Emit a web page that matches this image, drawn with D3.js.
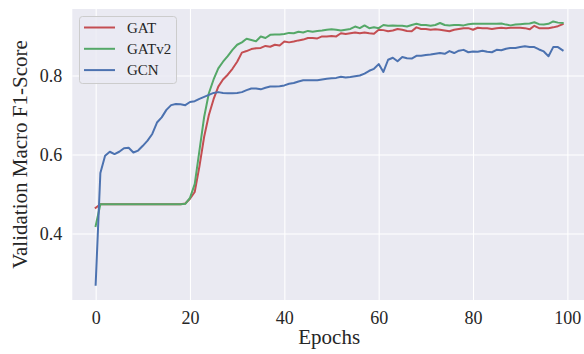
<!DOCTYPE html>
<html>
<head>
<meta charset="utf-8">
<script src="https://cdn.jsdelivr.net/npm/d3@7"></script>
<style>
  html, body { margin: 0; padding: 0; background: #ffffff; }
  svg { display: block; font-family: "Liberation Serif", "DejaVu Serif", serif; }
</style>
</head>
<body>
<svg id="chart" width="584" height="354"></svg>
<script>
const epochs = d3.range(0, 100);
const xTicks = [0, 20, 40, 60, 80, 100];
const yTicks = [0.4, 0.6, 0.8];
const seriesNames = ["GAT", "GATv2", "GCN"];
const seriesColors = ["#C44E52", "#55A868", "#4C72B0"];

const gat = [0.465,0.474,0.474,0.474,0.474,0.474,0.474,0.474,0.474,0.474,
  0.474,0.474,0.474,0.474,0.474,0.474,0.474,0.474,0.474,0.476,
  0.488,0.505,0.570,0.645,0.700,0.740,0.772,0.790,0.802,0.817,
  0.835,0.858,0.862,0.867,0.869,0.870,0.875,0.873,0.878,0.876,
  0.886,0.884,0.886,0.889,0.891,0.895,0.895,0.894,0.899,0.899,
  0.900,0.899,0.907,0.905,0.907,0.909,0.907,0.909,0.907,0.906,
  0.916,0.915,0.912,0.914,0.918,0.916,0.913,0.912,0.922,0.918,
  0.918,0.916,0.917,0.916,0.914,0.912,0.916,0.918,0.920,0.920,
  0.916,0.921,0.920,0.920,0.918,0.920,0.921,0.920,0.921,0.921,
  0.921,0.920,0.917,0.926,0.920,0.920,0.920,0.922,0.925,0.930];

const gatv2 = [0.419,0.474,0.474,0.474,0.474,0.474,0.474,0.474,0.474,0.474,
  0.474,0.474,0.474,0.474,0.474,0.474,0.474,0.474,0.474,0.475,
  0.490,0.525,0.610,0.695,0.755,0.790,0.818,0.835,0.849,0.865,
  0.878,0.884,0.893,0.890,0.887,0.899,0.895,0.903,0.904,0.904,
  0.905,0.908,0.907,0.911,0.909,0.913,0.911,0.913,0.914,0.916,
  0.917,0.916,0.914,0.916,0.918,0.924,0.920,0.927,0.920,0.922,
  0.920,0.928,0.926,0.927,0.926,0.926,0.924,0.928,0.931,0.928,
  0.928,0.926,0.928,0.933,0.928,0.927,0.928,0.928,0.927,0.930,
  0.931,0.931,0.931,0.931,0.931,0.931,0.932,0.929,0.927,0.929,
  0.930,0.931,0.932,0.935,0.930,0.929,0.931,0.937,0.934,0.933];

const gcn = [0.270,0.553,0.597,0.607,0.601,0.607,0.616,0.617,0.605,0.610,
  0.622,0.635,0.652,0.681,0.694,0.713,0.725,0.728,0.727,0.725,
  0.733,0.735,0.741,0.746,0.751,0.756,0.758,0.756,0.755,0.755,
  0.756,0.758,0.763,0.767,0.767,0.765,0.769,0.772,0.772,0.773,
  0.775,0.779,0.781,0.785,0.788,0.788,0.788,0.788,0.790,0.792,
  0.793,0.794,0.797,0.795,0.796,0.798,0.800,0.805,0.812,0.817,
  0.829,0.809,0.840,0.845,0.836,0.847,0.844,0.843,0.850,0.850,
  0.852,0.853,0.855,0.857,0.855,0.862,0.857,0.863,0.865,0.859,
  0.861,0.860,0.863,0.860,0.859,0.865,0.864,0.868,0.870,0.870,
  0.872,0.874,0.872,0.872,0.866,0.861,0.849,0.872,0.872,0.864];

const seriesValues = [gat, gatv2, gcn];

const svg = d3.select("#chart");
const W = 584, H = 354;
const plotLeft = 72.3, plotRight = 586, plotTop = 9, plotBottom = 300;

const x = d3.scaleLinear().domain([-4.95, 103.95]).range([plotLeft, plotRight]);
const y = d3.scaleLinear().domain([0.2315, 0.9685]).range([plotBottom, plotTop]);

svg.append("defs").append("clipPath").attr("id", "clip")
  .append("rect").attr("x", plotLeft).attr("y", plotTop)
  .attr("width", plotRight - plotLeft).attr("height", plotBottom - plotTop);

// background
svg.append("rect").attr("x", plotLeft).attr("y", plotTop)
  .attr("width", plotRight - plotLeft).attr("height", plotBottom - plotTop)
  .attr("fill", "#EAEAF2");

// grid
const xAxisG = svg.append("g").attr("transform", `translate(0,${plotBottom})`)
  .call(d3.axisBottom(x).tickValues(xTicks).tickSize(-(plotBottom - plotTop)).tickPadding(9).tickFormat(d3.format("d")));
const yAxisG = svg.append("g").attr("transform", `translate(${plotLeft},0)`)
  .call(d3.axisLeft(y).tickValues(yTicks).tickSize(-(plotRight - plotLeft)).tickPadding(10).tickFormat(d3.format(".1f")));
[xAxisG, yAxisG].forEach(g => {
  g.select(".domain").remove();
  g.selectAll(".tick line").attr("stroke", "#ffffff").attr("stroke-width", 1.1);
  g.selectAll(".tick text").attr("fill", "#262626").attr("font-size", 18)
    .attr("font-family", "Liberation Serif, serif");
});
xAxisG.selectAll(".tick text").attr("dy", "0.85em");

// lines
const line = d3.line().x((d, i) => x(epochs[i])).y(d => y(d));
const linesG = svg.append("g").attr("clip-path", "url(#clip)");
seriesValues.forEach((vals, k) => {
  linesG.append("path").datum(vals)
    .attr("fill", "none")
    .attr("stroke", seriesColors[k])
    .attr("stroke-width", 2)
    .attr("stroke-linejoin", "round")
    .attr("stroke-linecap", "square")
    .attr("d", line);
});

// axis labels
svg.append("text").attr("x", (plotLeft + plotRight) / 2).attr("y", 344)
  .attr("text-anchor", "middle").attr("font-size", 21).attr("fill", "#262626")
  .text("Epochs");
svg.append("text").attr("transform", `translate(27,${(plotTop + plotBottom) / 2}) rotate(-90)`)
  .attr("text-anchor", "middle").attr("font-size", 21).attr("fill", "#262626")
  .text("Validation Macro F1-Score");

// legend
const lg = svg.append("g");
lg.append("rect").attr("x", 79.5).attr("y", 16.5).attr("width", 97).attr("height", 67)
  .attr("rx", 3).attr("fill", "#EAEAF2").attr("fill-opacity", 0.8)
  .attr("stroke", "#cccccc").attr("stroke-width", 1);
seriesNames.forEach((name, k) => {
  const cy = 27.5 + k * 21.3;
  lg.append("line").attr("x1", 84).attr("x2", 115).attr("y1", cy).attr("y2", cy)
    .attr("stroke", seriesColors[k]).attr("stroke-width", 2);
  lg.append("text").attr("x", 127).attr("y", cy).attr("dy", "0.35em")
    .attr("font-size", 15).attr("fill", "#262626").text(name);
});
</script>
</body>
</html>
